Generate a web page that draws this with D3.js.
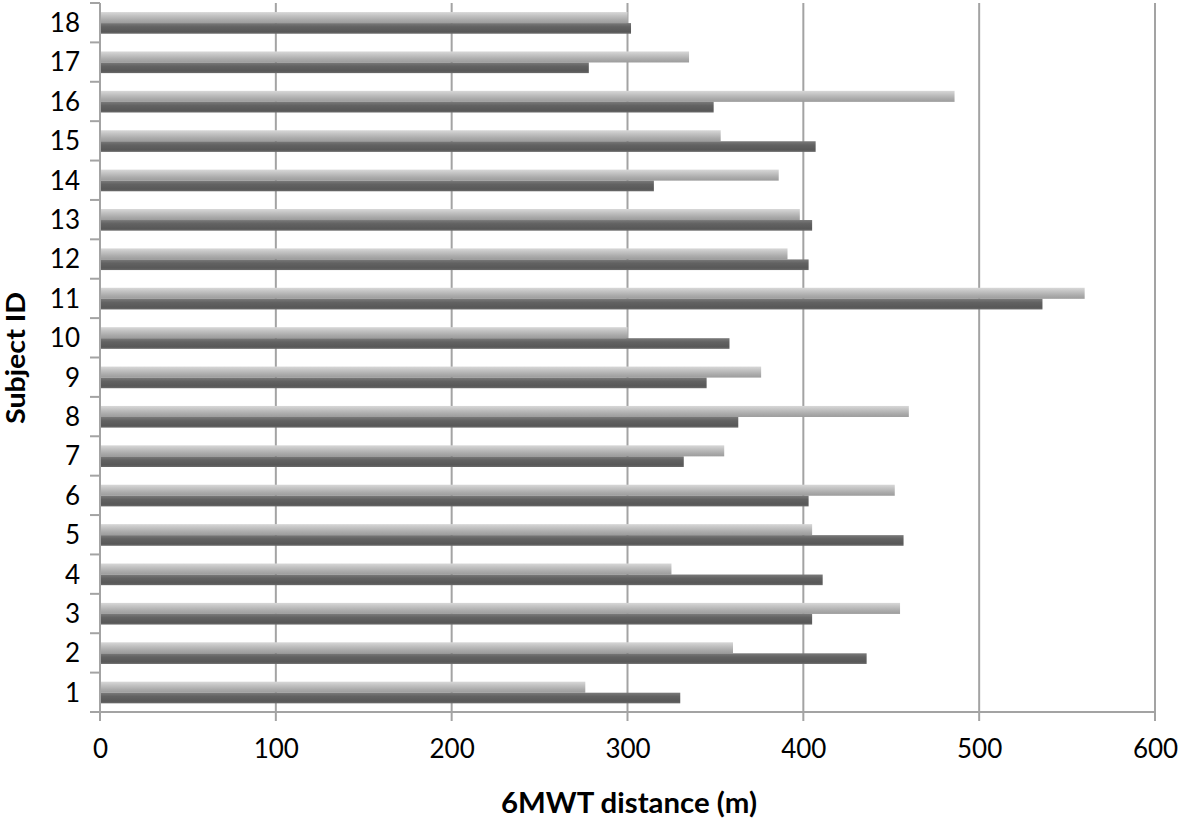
<!DOCTYPE html>
<html>
<head>
<meta charset="utf-8">
<script src="https://cdn.jsdelivr.net/npm/d3@7"></script>
<style>
  body { margin: 0; background: #fff; }
  text { font-family: Lato, "Open Sans", sans-serif; fill: #000; }
</style>
</head>
<body>
<div id="chart"></div>
<script>
// subjects and the two 6MWT series (light = first test, dark = second test)
var subjects = ["1","2","3","4","5","6","7","8","9","10","11","12","13","14","15","16","17","18"];
var lightVals = [276, 360, 455, 325, 405, 452, 355, 460, 376, 300, 560, 391, 398, 386, 353, 486, 335, 300];
var darkVals  = [330, 436, 405, 411, 457, 403, 332, 363, 345, 358, 536, 403, 405, 315, 407, 349, 278, 302];
var xTicks = [0, 100, 200, 300, 400, 500, 600];

var W = 1181, H = 821;

var svg = d3.select("#chart")
  .append("svg")
    .attr("width", W)
    .attr("height", H);

// gradients for the 3D-looking bars
var defs = svg.append("defs");
function grad(id, stops) {
  var g = defs.append("linearGradient").attr("id", id)
    .attr("x1", 0).attr("y1", 0).attr("x2", 0).attr("y2", 1);
  stops.forEach(function(s){ g.append("stop").attr("offset", s[0]).attr("stop-color", s[1]); });
}
grad("gLight", [[0, "#d8d8d8"], [0.3, "#c4c4c4"], [0.7, "#ababab"], [1, "#9c9c9c"]]);
grad("gDark", [[0, "#7a7a7a"], [0.35, "#626262"], [0.8, "#585858"], [1, "#6a6a6a"]]);

var x = d3.scaleLinear().domain([0, 600]).range([100, 1155]);
var y = d3.scaleBand().domain(subjects.slice().reverse()).range([3, 712]);
var bw = y.bandwidth();

var axisCol = "#a3a3a3";

// vertical gridlines (with ticks below the floor)
svg.append("g")
  .selectAll("line")
  .data(xTicks.slice(1))
  .enter()
  .append("line")
  .attr("x1", function(d){ return x(d); })
  .attr("x2", function(d){ return x(d); })
  .attr("y1", 3)
  .attr("y2", 721)
  .attr("stroke", axisCol)
  .attr("stroke-width", 2);

// bars
var rows = subjects.map(function(s, i){ return {id: s, a: lightVals[i], b: darkVals[i]}; });

svg.append("g")
  .selectAll("rect")
  .data(rows)
  .enter()
  .append("rect")
  .attr("x", x(0) + 1)
  .attr("y", function(d){ return y(d.id) + bw * 0.23; })
  .attr("width", function(d){ return x(d.a) - x(0) - 1; })
  .attr("height", bw * 0.28)
  .attr("fill", "url(#gLight)");

svg.append("g")
  .selectAll("rect")
  .data(rows)
  .enter()
  .append("rect")
  .attr("x", x(0) + 1)
  .attr("y", function(d){ return y(d.id) + bw * 0.51; })
  .attr("width", function(d){ return x(d.b) - x(0) - 1; })
  .attr("height", bw * 0.27)
  .attr("fill", "url(#gDark)");

// floor line + left axis line
svg.append("line")
  .attr("x1", 90).attr("x2", 1156)
  .attr("y1", 712).attr("y2", 712)
  .attr("stroke", axisCol).attr("stroke-width", 2);
svg.append("line")
  .attr("x1", 100).attr("x2", 100)
  .attr("y1", 3).attr("y2", 721)
  .attr("stroke", axisCol).attr("stroke-width", 2);

// ticks between categories on the left
var bounds = subjects.map(function(s){ return y(s); });
svg.append("g")
  .selectAll("line")
  .data(bounds)
  .enter()
  .append("line")
  .attr("x1", 90).attr("x2", 100)
  .attr("y1", function(d){ return d; })
  .attr("y2", function(d){ return d; })
  .attr("stroke", axisCol).attr("stroke-width", 2);

// y labels
var yAxis = svg.append("g")
  .attr("transform", "translate(80,0)")
  .call(d3.axisLeft(y).tickSize(0).tickPadding(0));
yAxis.select(".domain").remove();
yAxis.selectAll("text")
  .attr("font-size", "26px")
  .attr("font-family", "Lato, sans-serif")
  .attr("fill", "#000")
  .attr("dy", "0.36em");

// x labels
var xAxis = svg.append("g")
  .attr("transform", "translate(0,740)")
  .call(d3.axisBottom(x).tickValues(xTicks).tickSize(0).tickPadding(0));
xAxis.select(".domain").remove();
xAxis.selectAll("text")
  .attr("font-size", "26px")
  .attr("font-family", "Lato, sans-serif")
  .attr("fill", "#000")
  .attr("dy", "0.7em");

// axis titles
svg.append("text")
  .attr("x", 629)
  .attr("y", 813)
  .attr("text-anchor", "middle")
  .attr("font-size", "28px")
  .attr("font-weight", "bold")
  .attr("textLength", 256)
  .attr("lengthAdjust", "spacingAndGlyphs")
  .text("6MWT distance (m)");

svg.append("text")
  .attr("transform", "translate(25,358) rotate(-90)")
  .attr("text-anchor", "middle")
  .attr("font-size", "27px")
  .attr("font-weight", "bold")
  .attr("textLength", 132)
  .attr("lengthAdjust", "spacingAndGlyphs")
  .text("Subject ID");
</script>
</body>
</html>
